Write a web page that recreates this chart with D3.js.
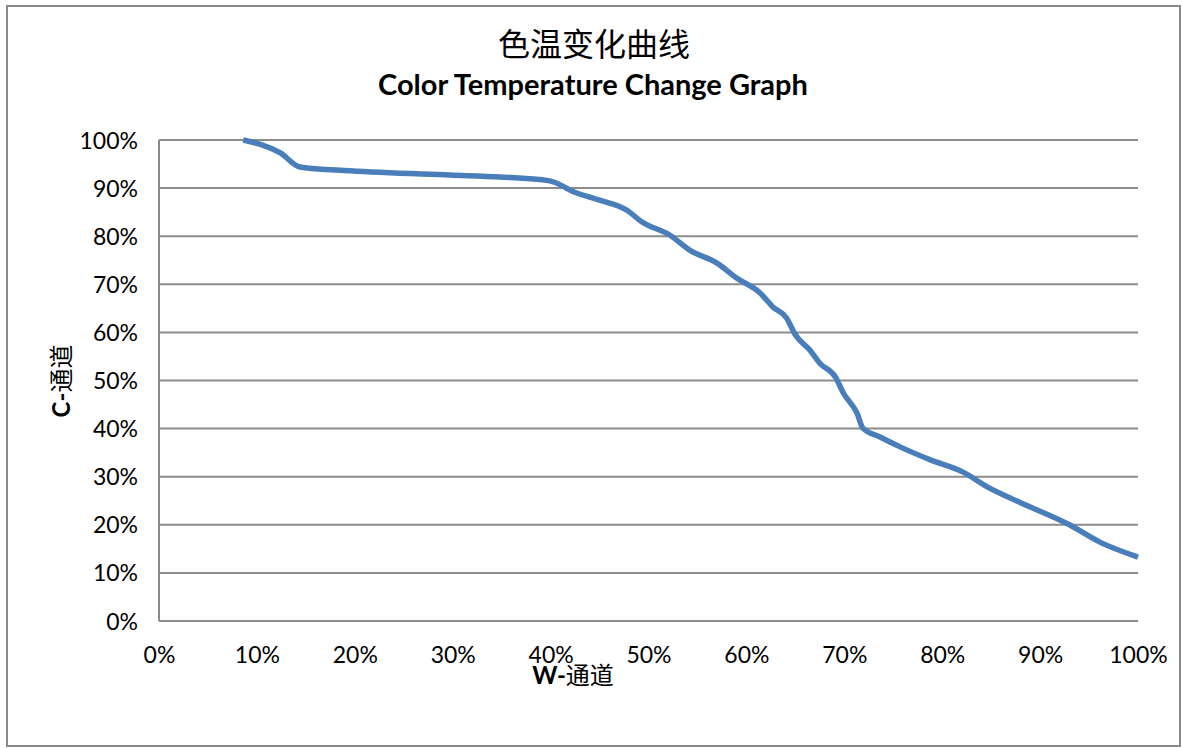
<!DOCTYPE html>
<html><head><meta charset="utf-8">
<script src="https://cdn.jsdelivr.net/npm/d3@7"></script>
<style>body{margin:0;background:#fff}svg{display:block}</style>
</head><body>
<svg id="c" width="1182" height="748"></svg>
<script>
const titleCN = "色温变化曲线";
const titleEN = "Color Temperature Change Graph";
const xTitle = "W-通道";
const yTitle = "C-通道";
const tickValues = [0,10,20,30,40,50,60,70,80,90,100];
const wValues = [8.6,12.4,14.4,19.5,29.7,34.8,39.9,42.4,45,47.8,49.3,52.2,54.2,57,59,61.4,62.7,64.1,65,66.5,67.5,69.1,69.9,71.3,71.9,73.6,75.7,78.8,82.1,84.6,87.9,93,96.1,100];
const cValues = [100,97.3,94.4,93.6,92.7,92.3,91.5,89.2,87.5,85.4,83,80.2,77.1,74.4,71.3,68.2,65.3,63,59.5,56.3,53.6,50.7,47.4,43.2,40.1,38.3,36.2,33.5,31,27.9,24.7,20,16.4,13.3];

const svg = d3.select("#c");
const font = "Lato, 'Open Sans', sans-serif";
const cjk = "'Noto Sans CJK SC', sans-serif";
svg.append("rect").attr("x",7).attr("y",6).attr("width",1173).attr("height",740)
  .attr("fill","#fff").attr("stroke","#8a8a8a").attr("stroke-width",2);

const x = d3.scaleLinear().domain([0,100]).range([159,1138]);
const y = d3.scaleLinear().domain([0,100]).range([621,140]);

// gridlines
svg.append("g").selectAll("line").data(tickValues).join("line")
  .attr("x1",x(0)).attr("x2",x(100)).attr("y1",d=>y(d)).attr("y2",d=>y(d))
  .attr("stroke","#8c8c8c").attr("stroke-width",2);
svg.append("line").attr("x1",x(0)).attr("x2",x(0)).attr("y1",y(0)).attr("y2",y(100))
  .attr("stroke","#8c8c8c").attr("stroke-width",2);

// axes
const yAxis = svg.append("g").attr("transform",`translate(${x(0)-18},0)`)
  .call(d3.axisLeft(y).tickValues(tickValues).tickFormat(d=>d+"%").tickSize(0));
yAxis.select(".domain").remove();
yAxis.selectAll("text").attr("font-family",font).attr("font-size",23).attr("fill","#000").attr("dy","0.35em");

const xAxis = svg.append("g").attr("transform",`translate(0,${y(0)+23})`)
  .call(d3.axisBottom(x).tickValues(tickValues).tickFormat(d=>d+"%").tickSize(0));
xAxis.select(".domain").remove();
xAxis.selectAll("text").attr("font-family",font).attr("font-size",23).attr("fill","#000");

// line
const data = wValues.map((w,i)=>({w, c:cValues[i]}));
svg.append("path").datum(data)
  .attr("d", d3.line().x(d=>x(d.w)).y(d=>y(d.c)).curve(d3.curveMonotoneX))
  .attr("fill","none").attr("stroke","#4a7ebb").attr("stroke-width",5.5)
  .attr("stroke-linejoin","round").attr("stroke-linecap","butt");

// titles
svg.append("text").attr("x",594).attr("y",56).attr("text-anchor","middle")
  .attr("font-family",cjk).attr("font-size",32).attr("fill","#000").text(titleCN);
svg.append("text").attr("x",593).attr("y",95).attr("text-anchor","middle")
  .attr("font-family",font).attr("font-weight","bold").attr("font-size",29).attr("fill","#000").text(titleEN);

svg.append("text").attr("x",573).attr("y",684).attr("text-anchor","middle")
  .attr("font-family",cjk).attr("font-size",24).attr("fill","#000")
  .call(t=>{t.append("tspan").attr("font-family",font).attr("font-weight","bold").text(xTitle.slice(0,2));
           t.append("tspan").text(xTitle.slice(2));});
svg.append("text").attr("transform","translate(70,381) rotate(-90)").attr("text-anchor","middle")
  .attr("font-family",cjk).attr("font-size",24).attr("fill","#000")
  .call(t=>{t.append("tspan").attr("font-family",font).attr("font-weight","bold").text(yTitle.slice(0,2));
           t.append("tspan").text(yTitle.slice(2));});
</script>
</body></html>
